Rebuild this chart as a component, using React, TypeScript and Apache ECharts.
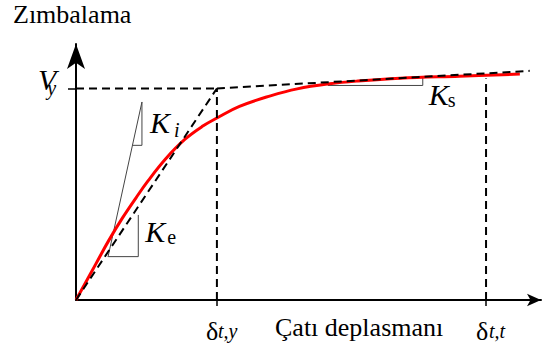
import React, { useEffect, useRef } from "react";
import * as echarts from "echarts";

// Axis extents (displacement in units of δt,y, base shear in units of Vy)
const X_MAX = 3.3;
const Y_MAX = 1.21;

const DELTA_TY = 1;
const DELTA_TT = 2.91;
const V_Y = 1;

// Capacity (pushover) curve
const capacityCurve: [number, number][] = [
  [0, 0],
  [0.142, 0.172],
  [0.234, 0.283],
  [0.33, 0.388],
  [0.426, 0.483],
  [0.511, 0.563],
  [0.64, 0.67],
  [0.774, 0.76],
  [0.9, 0.822],
  [1.0, 0.86],
  [1.16, 0.915],
  [1.38, 0.965],
  [1.57, 0.998],
  [1.8, 1.022],
  [2.0, 1.035],
  [2.3, 1.048],
  [2.72, 1.058],
  [3.15, 1.068],
];

// Bilinear idealisation
const elasticLine: [number, number][] = [[0, 0], [DELTA_TY, V_Y]];
const yieldLevel: [number, number][] = [[0, V_Y], [DELTA_TY, V_Y]];
const hardeningLine: [number, number][] = [[DELTA_TY, V_Y], [3.22, 1.083]];
const yieldDrop: [number, number][] = [[DELTA_TY, 0], [DELTA_TY, V_Y]];
const targetDrop: [number, number][] = [[DELTA_TT, 0], [DELTA_TT, 1.047]];

// Stiffness triangles
const kiTriangle: [number, number][] = [[0.227, 0.203], [0.468, 0.936], [0.468, 0.731], [0.401, 0.731]];
const keTriangle: [number, number][] = [[0.229, 0.205], [0.442, 0.205], [0.442, 0.402]];
const ksTriangle: [number, number][] = [[1.787, 1.014], [2.461, 1.014], [2.461, 1.053]];

const SERIF = "Liberation Serif";
const DASH = [8, 5];

// plot area
const GRID = { left: 76, top: 44, right: 8, bottom: 54 };
const W = 549;
const H = 354;
const PLOT_W = W - GRID.left - GRID.right;
const PLOT_H = H - GRID.top - GRID.bottom;

// pixel position of a data point inside the plot area (used to anchor labels)
const at = (p: [number, number]) => [
  GRID.left + (p[0] / X_MAX) * PLOT_W,
  GRID.top + PLOT_H - (p[1] / Y_MAX) * PLOT_H,
];

function lineSeries(data: [number, number][], color: string, width: number, type: any, z: number) {
  return {
    type: "line",
    data,
    showSymbol: false,
    symbol: "none",
    smooth: false,
    silent: true,
    z,
    lineStyle: { color, width, type },
  };
}

function fontProps(size: number, italic: boolean) {
  const p: any = { fontFamily: SERIF, fontSize: size };
  if (italic) p.fontStyle = "italic";
  return p;
}

// text placed by its left edge and alphabetic baseline
function txt(text: string, left: number, baseline: number, size: number, italic: boolean) {
  return {
    type: "text",
    x: left,
    y: baseline - 0.8375 * size,
    style: { text, fill: "#000", ...fontProps(size, italic) },
  };
}

export default function App() {
  const ref = useRef<HTMLDivElement>(null);

  useEffect(() => {
    if (!ref.current) return;
    const chart = echarts.init(ref.current, undefined, { renderer: "svg" });

    const axisBase = {
      type: "value",
      splitLine: { show: false },
      axisLabel: { show: false },
    };

    const o = at([0, 0]);
    const top = at([0, Y_MAX]);
    const vy = at([0, V_Y]);
    const dy = at([DELTA_TY, 0]);
    const dt = at([DELTA_TT, 0]);
    const ki = at(kiTriangle[1]);
    const ke = at(keTriangle[1]);
    const ks = at(ksTriangle[1]);

    // V with its subscript y tucked under the right arm, kept as one rich text
    const vyLabel = {
      type: "text",
      x: vy[0] - 38,
      y: vy[1] + 4.6 - 28.1,
      style: {
        text: "{v|V}{s|y}",
        fill: "#000",
        ...fontProps(30, true),
        rich: {
          v: { ...fontProps(30, true), lineHeight: 30, fill: "#000" },
          s: { ...fontProps(20, true), lineHeight: 20, fill: "#000", padding: [16, 0, 0, -9] },
        },
      },
    };

    chart.setOption({
      animation: false,
      backgroundColor: "#fff",
      textStyle: { fontFamily: SERIF },
      grid: { ...GRID, containLabel: false },
      xAxis: {
        ...axisBase,
        min: 0,
        max: X_MAX,
        axisLine: {
          show: true,
          symbol: ["none", "arrow"],
          symbolSize: [9.5, 14],
          lineStyle: { color: "#000", width: 2 },
        },
        axisTick: {
          show: true,
          customValues: [DELTA_TY, DELTA_TT],
          length: 6,
          inside: false,
          lineStyle: { color: "#000", width: 1.5 },
        },
      },
      yAxis: {
        ...axisBase,
        min: 0,
        max: Y_MAX,
        axisLine: {
          show: true,
          symbol: ["none", "arrow"],
          symbolSize: [13.5, 25],
          lineStyle: { color: "#000", width: 2 },
        },
        axisTick: {
          show: true,
          customValues: [V_Y],
          length: 8,
          inside: false,
          lineStyle: { color: "#000", width: 1.5 },
        },
      },
      series: [
        { ...lineSeries(capacityCurve, "#ff0000", 3, "solid", 2), smooth: 0.4 },
        lineSeries(kiTriangle, "#444", 1, "solid", 1),
        lineSeries(keTriangle, "#444", 1, "solid", 1),
        lineSeries(ksTriangle, "#444", 1, "solid", 1),
        lineSeries(elasticLine, "#000", 2, DASH, 3),
        lineSeries(yieldLevel, "#000", 2, DASH, 3),
        lineSeries(hardeningLine, "#000", 2, DASH, 3),
        lineSeries(yieldDrop, "#000", 2, DASH, 3),
        lineSeries(targetDrop, "#000", 2, DASH, 3),
      ],
      graphic: [
        txt("Zımbalama", top[0] - 63, top[1] - 21, 26, false),
        txt("Çatı deplasmanı", o[0] + 199, o[1] + 36, 26, false),
        vyLabel,
        txt("δ", dy[0] - 11, dy[1] + 40, 26, false),
        txt("t,y", dy[0] + 1, dy[1] + 38, 20, true),
        txt("δ", dt[0] - 10, dt[1] + 40, 26, false),
        txt("t,t", dt[0] + 3, dt[1] + 38, 20, true),
        txt("K", ki[0] + 8, ki[1] + 31, 30, true),
        txt("i", ki[0] + 32, ki[1] + 35, 20, true),
        txt("K", ke[0] + 7, ke[1] - 14.7, 30, true),
        txt("e", ke[0] + 29, ke[1] - 12.7, 20, false),
        txt("K", ks[0] + 6, ks[1] + 19, 30, true),
        txt("s", ks[0] + 25, ks[1] + 21, 20, false),
      ],
    });

    return () => chart.dispose();
  }, []);

  return (
    <div
      ref={ref}
      style={{ position: "fixed", left: 0, top: 0, width: W, height: H, background: "#fff" }}
    />
  );
}
